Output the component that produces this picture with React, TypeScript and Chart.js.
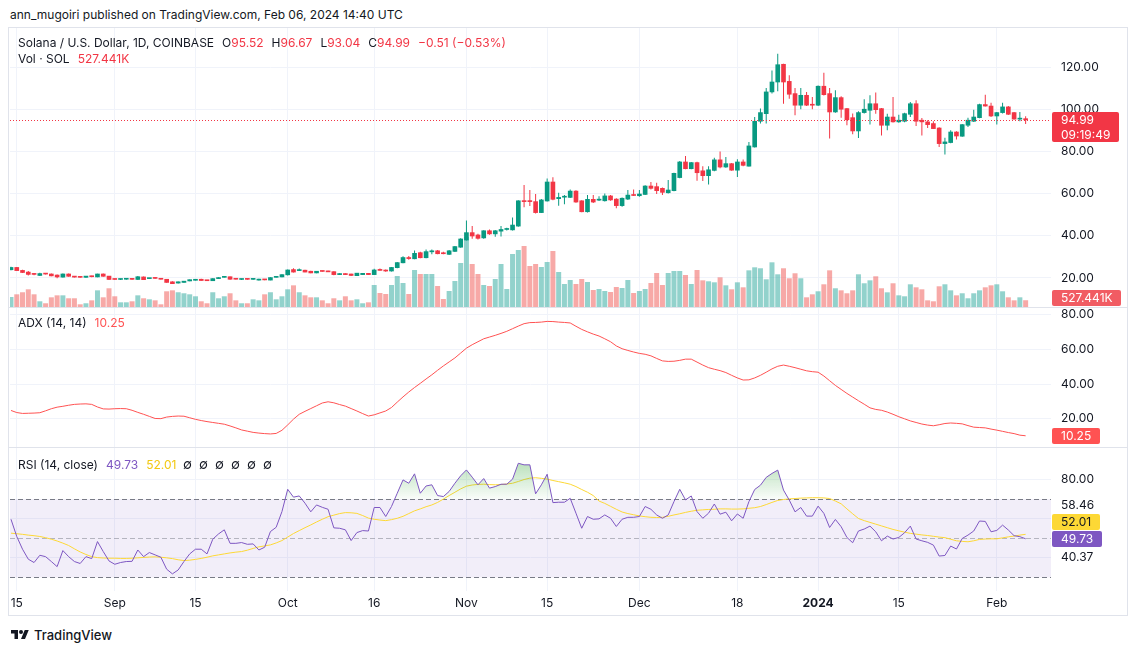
import React, { useEffect, useRef } from "react";
import { Chart, registerables } from "chart.js";

Chart.register(...registerables);

// ---------------- DATA (day index 0 = 2023-08-14, last = 2024-02-06) ----------------
const opens = [
  23.9, 25.0, 23.6, 22.8, 22.0, 21.2, 22.0, 21.9, 21.4, 20.4,
  21.9, 20.9, 20.45, 20.3, 20.9, 20.5, 21.9, 20.9, 19.6, 19.3,
  19.4, 19.6, 19.3, 20.5, 19.7, 20.2, 19.5, 19.4, 18.2, 17.6,
  17.9, 18.6, 18.9, 19.4, 18.9, 18.7, 19.7, 20.3, 20.6, 19.6,
  19.3, 19.4, 19.35, 19.0, 19.2, 19.0, 20.3, 20.5, 21.5, 24.0,
  23.5, 23.7, 23.2, 22.4, 23.2, 23.2, 23.0, 21.6, 22.1, 21.9,
  21.1, 21.6, 22.2, 21.6, 23.9, 23.7, 23.3, 24.9, 27.2, 29.7,
  29.1, 32.0, 29.6, 32.4, 32.9, 31.9, 31.2, 32.6, 34.6, 38.0,
  41.5, 40.4, 39.0, 42.4, 40.9, 42.2, 43.0, 42.8, 44.6, 56.5,
  56.4, 56.2, 51.0, 56.5, 65.5, 57.6, 58.3, 58.2, 61.2, 56.6,
  51.4, 57.3, 56.9, 56.6, 58.9, 57.4, 54.3, 57.4, 59.3, 59.0,
  59.6, 63.6, 63.3, 62.5, 60.4, 61.4, 67.6, 75.0, 71.8, 74.7,
  70.8, 68.5, 71.0, 76.0, 72.6, 74.2, 71.1, 75.0, 73.0, 82.1,
  94.3, 97.9, 108.2, 112.9, 121.3, 113.2, 107.4, 101.9, 106.6, 102.3,
  101.9, 110.9, 107.4, 98.7, 105.5, 100.3, 96.0, 89.7, 98.4, 99.5,
  102.6, 100.3, 92.4, 96.3, 94.0, 94.3, 97.6, 102.6, 94.8, 94.0,
  93.2, 91.1, 83.7, 84.2, 89.2, 87.2, 92.4, 94.3, 96.0, 102.2,
  101.5, 96.8, 98.4, 101.1, 98.4, 95.3, 95.52,
];
const highs = [
  25.3, 25.2, 23.9, 23.3, 22.4, 22.5, 22.2, 22.1, 21.6, 22.1,
  22.1, 21.0, 20.7, 21.0, 21.1, 22.0, 22.1, 21.0, 19.8, 19.6,
  19.6, 19.8, 20.9, 20.7, 19.9, 20.4, 19.7, 19.5, 18.4, 18.3,
  18.6, 19.3, 19.5, 19.6, 19.1, 19.9, 20.3, 20.8, 20.7, 19.9,
  19.6, 19.6, 19.6, 19.6, 19.4, 20.3, 20.8, 21.8, 24.0, 24.6,
  24.5, 23.9, 23.4, 23.3, 23.4, 23.4, 23.2, 22.3, 22.2, 22.0,
  22.4, 22.4, 22.3, 24.4, 24.5, 24.0, 25.2, 27.6, 30.3, 30.4,
  33.0, 32.4, 33.5, 33.5, 33.3, 32.4, 33.3, 35.2, 38.8, 47.2,
  44.6, 41.0, 42.6, 43.0, 42.8, 44.6, 43.8, 48.7, 56.9, 64.1,
  61.7, 59.8, 57.4, 67.2, 67.7, 60.4, 59.3, 62.0, 61.6, 56.9,
  59.3, 59.3, 58.8, 60.1, 59.3, 57.8, 58.2, 61.7, 62.0, 61.7,
  64.0, 65.5, 65.2, 62.9, 66.4, 69.9, 75.4, 77.8, 75.0, 75.1,
  73.0, 73.0, 77.0, 80.0, 77.4, 74.5, 76.3, 76.2, 84.5, 96.3,
  100.3, 110.1, 118.4, 126.3, 121.6, 116.1, 110.1, 110.1, 108.2, 105.8,
  111.3, 117.3, 110.1, 109.0, 106.1, 100.6, 98.0, 99.0, 104.7, 106.6,
  107.9, 100.6, 97.9, 105.8, 97.4, 98.3, 103.4, 104.2, 95.8, 94.8,
  94.3, 91.5, 86.5, 90.0, 89.5, 93.0, 96.0, 99.8, 102.6, 106.9,
  103.1, 98.7, 103.1, 101.5, 98.7, 98.7, 96.67,
];
const lows = [
  23.7, 23.4, 22.4, 21.2, 21.3, 21.0, 21.7, 20.8, 19.9, 20.2,
  20.6, 20.2, 20.1, 20.1, 20.3, 20.4, 20.6, 19.1, 19.2, 19.1,
  19.2, 19.2, 19.1, 19.1, 19.5, 19.6, 19.3, 17.8, 17.2, 17.4,
  17.8, 18.5, 18.8, 18.7, 18.6, 18.6, 19.6, 20.2, 19.2, 19.3,
  19.1, 19.2, 19.2, 18.8, 18.9, 18.9, 20.2, 20.3, 21.2, 22.6,
  23.3, 22.7, 22.3, 22.2, 23.0, 22.8, 21.3, 21.4, 21.4, 21.0,
  20.9, 21.4, 21.5, 21.4, 23.5, 23.0, 23.1, 24.6, 27.0, 28.7,
  28.9, 29.4, 29.3, 31.3, 31.2, 31.2, 30.9, 32.3, 34.3, 37.8,
  38.6, 38.2, 38.6, 40.5, 39.5, 39.7, 42.5, 42.5, 44.3, 53.5,
  54.1, 50.6, 50.8, 56.2, 56.8, 54.3, 54.9, 57.9, 55.7, 51.2,
  51.1, 55.6, 56.5, 56.3, 56.6, 53.0, 53.8, 57.0, 58.9, 58.5,
  59.3, 62.0, 59.8, 59.3, 60.1, 61.1, 67.3, 71.5, 71.5, 66.1,
  66.0, 64.3, 70.6, 72.0, 72.2, 70.8, 67.9, 73.0, 72.8, 81.8,
  93.2, 93.2, 107.5, 108.5, 102.6, 105.0, 97.1, 100.0, 101.5, 100.0,
  101.5, 106.5, 86.1, 98.3, 96.0, 92.4, 88.1, 86.4, 98.0, 92.7,
  97.9, 87.6, 90.0, 93.7, 93.6, 93.8, 96.3, 92.1, 87.6, 91.1,
  90.6, 82.1, 78.5, 83.9, 85.7, 86.9, 91.6, 94.0, 95.7, 101.3,
  96.3, 92.7, 98.0, 97.3, 95.1, 94.3, 93.04,
];
const closes = [
  25.0, 23.5, 22.6, 21.7, 21.7, 22.1, 21.85, 21.0, 20.5, 21.9,
  20.8, 20.4, 20.3, 20.9, 20.6, 21.9, 20.8, 19.3, 19.3, 19.4,
  19.45, 19.35, 20.6, 19.2, 19.8, 19.8, 19.4, 17.9, 17.3, 18.2,
  18.5, 19.2, 19.4, 18.8, 18.7, 19.7, 20.2, 20.5, 19.4, 19.4,
  19.4, 19.35, 19.45, 19.2, 19.1, 20.2, 20.6, 21.6, 23.8, 22.8,
  23.7, 22.8, 22.4, 23.2, 23.1, 22.9, 21.6, 22.1, 21.6, 21.2,
  22.3, 22.2, 21.6, 23.8, 23.6, 23.3, 25.0, 27.3, 29.7, 29.2,
  31.7, 29.6, 32.5, 32.9, 31.5, 31.5, 32.9, 34.9, 38.5, 41.5,
  39.9, 38.8, 42.4, 40.9, 42.4, 43.0, 43.2, 45.1, 56.6, 56.2,
  56.2, 51.0, 57.0, 65.5, 57.3, 58.2, 58.7, 61.2, 56.0, 51.4,
  57.3, 56.0, 57.3, 58.9, 57.0, 54.3, 57.8, 59.3, 59.1, 59.8,
  63.6, 62.5, 61.4, 60.6, 61.7, 69.6, 75.0, 71.8, 74.7, 69.9,
  68.5, 71.3, 76.0, 72.6, 74.2, 71.1, 75.0, 73.4, 82.6, 94.3,
  98.4, 108.2, 112.9, 121.1, 112.9, 107.1, 101.9, 106.6, 101.9, 101.9,
  110.9, 106.9, 98.7, 105.5, 100.0, 95.0, 89.7, 98.4, 100.0, 102.6,
  99.8, 92.4, 96.3, 94.0, 94.8, 97.9, 102.6, 94.3, 94.0, 92.7,
  90.8, 83.7, 84.5, 89.2, 87.3, 92.7, 94.8, 96.3, 102.2, 101.5,
  96.8, 98.4, 101.1, 97.6, 95.3, 95.5, 94.99,
];
// volume in thousands of SOL
const volumes = [
  780, 990, 1150, 1380, 990, 445, 290, 755, 910, 910,
  680, 680, 210, 290, 520, 1300, 755, 1460, 835, 365,
  365, 445, 910, 680, 600, 520, 210, 1225, 1300, 1150,
  1070, 990, 835, 445, 290, 1150, 680, 835, 1070, 520,
  290, 290, 600, 520, 990, 1150, 600, 835, 1380, 1690,
  1150, 910, 755, 755, 520, 290, 680, 520, 835, 520,
  600, 290, 365, 1715, 1090, 1015, 1715, 2420, 1870, 1015,
  2885, 2575, 2575, 2575, 1640, 625, 1250, 2030, 3430, 5460,
  3355, 2575, 1715, 1640, 2185, 3355, 1405, 4135, 4445, 4760,
  3200, 3355, 3120, 3510, 4370, 2730, 1795, 2105, 1795, 2185,
  1950, 1325, 1405, 1250, 1170, 1560, 1480, 2105, 1090, 1250,
  1405, 1870, 2650, 1715, 2650, 2810, 2810, 2495, 1795, 2885,
  2080, 2005, 1925, 2315, 1690, 1380, 1925, 1535, 2860, 3095,
  3020, 2160, 3485, 2550, 3020, 2240, 2630, 2240, 755, 990,
  1225, 1770, 2860, 1460, 1300, 1070, 1300, 2550, 1850, 2080,
  2395, 1460, 1145, 1850, 910, 835, 1770, 1535, 1380, 520,
  445, 1615, 1770, 1300, 910, 1070, 680, 1070, 1300, 1535,
  1690, 1770, 1225, 755, 520, 755, 527.441,
];
const adx = [
  24.8, 23.6, 23.1, 23.2, 23.3, 23.5, 24.6, 25.8, 26.7, 27.2,
  27.8, 28.3, 28.5, 28.6, 28.3, 26.8, 25.7, 25.6, 25.8, 25.9,
  25.8, 24.9, 23.7, 22.6, 21.4, 20.2, 20.1, 21.0, 21.4, 21.6,
  21.5, 20.6, 19.7, 19.0, 18.4, 17.9, 17.4, 16.9, 15.9, 14.8,
  13.6, 12.9, 12.2, 11.8, 11.5, 11.3, 11.6, 13.4, 16.5, 19.8,
  22.6, 24.3, 25.9, 27.5, 29.1, 29.8, 29.2, 28.2, 27.3, 25.9,
  24.5, 23.0, 21.6, 22.3, 23.4, 24.5, 26.5, 29.6, 32.6, 35.4,
  38.0, 40.4, 42.9, 45.3, 47.9, 50.4, 52.7, 55.0, 57.8, 60.6,
  62.6, 64.3, 66.0, 67.0, 68.0, 69.1, 70.3, 71.8, 73.3, 74.7,
  75.3, 75.4, 75.6, 76.0, 75.9, 75.6, 75.4, 75.1, 73.2, 71.4,
  70.0, 68.7, 67.6, 66.0, 64.3, 61.9, 60.3, 59.3, 58.4, 57.6,
  57.1, 56.2, 54.7, 53.3, 53.0, 53.1, 53.6, 54.3, 54.3, 52.6,
  50.9, 49.4, 48.5, 47.7, 46.6, 45.0, 43.5, 42.3, 42.4, 43.5,
  45.0, 46.8, 48.7, 50.2, 50.9, 50.2, 49.4, 48.5, 47.6, 47.1,
  46.8, 44.6, 41.9, 39.2, 36.9, 34.6, 32.5, 30.4, 28.4, 26.3,
  25.4, 24.9, 23.9, 22.6, 21.2, 20.0, 18.8, 17.9, 17.0, 16.4,
  16.0, 16.6, 17.3, 17.6, 17.4, 17.1, 16.1, 15.2, 15.0, 14.8,
  14.1, 13.5, 12.8, 12.1, 11.5, 10.6, 10.25,
];
const rsi = [
  59.7, 50.9, 44.4, 39.3, 37.6, 41.3, 40.6, 38.1, 35.5, 43.7,
  40.6, 38.1, 37.1, 40.6, 39.6, 48.3, 43.2, 38.4, 36.7, 37.6,
  38.1, 38.2, 44.0, 40.6, 42.7, 41.5, 40.3, 34.2, 31.8, 33.8,
  38.1, 42.0, 44.4, 44.4, 42.0, 49.5, 52.2, 54.3, 47.4, 47.4,
  47.8, 46.9, 47.1, 44.0, 45.4, 53.4, 55.6, 63.6, 75.0, 71.0,
  71.6, 67.9, 63.5, 67.0, 65.8, 64.8, 55.3, 55.1, 54.3, 48.8,
  52.9, 53.9, 53.7, 65.7, 65.7, 61.1, 66.2, 73.0, 79.8, 78.1,
  82.9, 73.0, 76.7, 77.3, 71.8, 71.3, 73.9, 78.1, 81.9, 84.9,
  81.2, 77.3, 80.5, 75.6, 76.4, 77.6, 77.6, 80.2, 88.3, 87.5,
  87.5, 72.7, 77.3, 82.7, 68.2, 68.4, 68.4, 70.4, 62.8, 55.1,
  61.1, 59.7, 59.9, 61.9, 60.2, 56.0, 59.7, 60.7, 60.7, 61.1,
  66.2, 64.8, 61.9, 60.2, 61.9, 68.7, 75.0, 69.6, 71.6, 63.6,
  60.2, 62.8, 67.5, 62.3, 63.3, 58.9, 62.4, 60.2, 68.7, 74.9,
  77.1, 81.1, 83.1, 84.8, 74.6, 69.5, 63.5, 65.7, 61.3, 61.3,
  66.4, 62.7, 55.5, 59.6, 55.9, 50.4, 47.7, 53.7, 54.7, 56.2,
  53.3, 48.7, 51.1, 49.6, 50.4, 52.8, 56.2, 49.6, 48.7, 47.9,
  46.5, 40.9, 41.2, 46.0, 44.5, 49.9, 51.6, 53.7, 58.8, 58.6,
  53.3, 54.0, 56.7, 54.2, 51.3, 50.8, 49.73,
];
const rsiMa = [
  52.6, 52.3, 52.0, 51.6, 51.3, 50.9, 50.3, 49.5, 48.6, 47.5,
  46.3, 44.6, 43.0, 41.7, 40.6, 40.1, 39.9, 39.8, 39.8, 39.7,
  39.7, 39.8, 40.0, 40.2, 40.4, 40.5, 40.3, 40.0, 39.6, 39.0,
  38.6, 38.8, 39.2, 39.7, 40.3, 41.0, 41.5, 42.0, 42.5, 42.9,
  43.2, 43.9, 44.8, 45.6, 46.1, 46.6, 47.6, 48.8, 50.6, 52.4,
  53.9, 55.4, 56.8, 58.3, 59.7, 61.0, 61.8, 62.6, 63.1, 63.0,
  62.7, 61.6, 60.3, 59.7, 59.3, 59.0, 59.5, 60.2, 61.2, 62.6,
  64.0, 65.0, 66.1, 67.0, 68.3, 70.0, 71.8, 73.5, 75.2, 76.6,
  77.2, 77.5, 77.6, 77.4, 77.3, 77.4, 77.7, 78.1, 79.0, 80.0,
  80.7, 80.9, 80.6, 80.2, 79.5, 78.9, 78.3, 77.6, 76.4, 74.9,
  73.5, 71.8, 69.0, 67.8, 66.3, 64.8, 63.4, 62.6, 62.0, 61.4,
  61.0, 60.7, 60.6, 60.7, 61.2, 61.9, 62.5, 63.2, 63.8, 64.3,
  64.5, 64.7, 64.8, 65.0, 65.0, 64.9, 64.9, 65.0, 65.3, 65.6,
  66.2, 67.2, 68.3, 69.3, 69.8, 70.1, 70.3, 70.5, 70.6, 70.7,
  70.7, 70.6, 70.3, 69.0, 67.6, 65.0, 62.5, 60.1, 59.0, 58.1,
  57.2, 56.3, 55.4, 54.5, 53.8, 53.1, 52.5, 52.1, 51.7, 51.4,
  51.0, 50.6, 50.3, 49.5, 48.7, 48.4, 48.2, 48.7, 49.4, 49.6,
  49.7, 49.7, 50.2, 50.7, 51.1, 51.6, 52.01,
];
const timeTickDays = [1, 18, 32, 48, 63, 79, 93, 109, 126, 140, 154, 171];
const timeTickLabels = ["15", "Sep", "15", "Oct", "16", "Nov", "15", "Dec", "18", "2024", "15", "Feb"];
const priceTicks = [20, 40, 60, 80, 100, 120];
const adxTicks = [20, 40, 60, 80];
const rsiGridTicks = [40, 60, 80];
const rsiScaleLabels = [80, 58.46, 40.37];
const rsiLevels = [70, 50, 30];
const countdownText = "09:19:49";

// ---------------- STYLE ----------------
const FONT = "Inter, Roboto, 'Noto Sans', sans-serif";
const TEXT = "#131722";
const UP = "#089981";
const DOWN = "#f23645";
const UP_VOL = "rgba(38,166,154,0.5)";
const DOWN_VOL = "rgba(239,83,80,0.5)";
const GRID = "#f0f3fa";
const SEP = "#e0e3eb";
const ADX_COLOR = "#ff5252";
const RSI_COLOR = "#7e57c2";
const MA_COLOR = "#fdd835";
const VOL_BOX = "#f15c63";

const CANVAS_W = 1117;
const AXIS_W = 76;
const X_MIN = -0.173;
const X_MAX = 180.4;

const last = closes.length - 1;
const idx = closes.map((_, i) => i);
const fmt2 = (v: number) => v.toFixed(2);
const minus = (s: string) => s.replace("-", "\u2212");

function xScale(showLabels: boolean) {
  return {
    type: "linear" as const,
    min: X_MIN,
    max: X_MAX,
    offset: false,
    grid: { color: GRID, drawTicks: false, offset: false, lineWidth: 1 },
    border: { display: false },
    afterBuildTicks: (s: any) => {
      s.ticks = timeTickDays.map((v) => ({ value: v }));
    },
    ticks: showLabels
      ? {
          display: true,
          autoSkip: false,
          maxRotation: 0,
          padding: 5,
          color: TEXT,
          font: (c: any) => ({
            family: FONT,
            size: 12,
            weight: c.tick && timeTickLabels[timeTickDays.indexOf(c.tick.value)] === "2024" ? "bold" : "normal",
          }),
          callback: (v: any) => timeTickLabels[timeTickDays.indexOf(Number(v))] ?? "",
        }
      : { display: false },
    afterFit: (s: any) => {
      s.height = showLabels ? 24 : 0;
      s.paddingLeft = 0;
      s.paddingRight = 0;
    },
  };
}

function yScale(min: number, max: number, ticks: number[], showLabels: boolean) {
  return {
    type: "linear" as const,
    position: "right" as const,
    min,
    max,
    grid: { color: GRID, drawTicks: false, lineWidth: 1 },
    border: { display: false },
    afterBuildTicks: (s: any) => {
      s.ticks = ticks.map((v) => ({ value: v }));
    },
    ticks: {
      display: showLabels,
      padding: 10,
      color: TEXT,
      font: { family: FONT, size: 12 },
      callback: (v: any) => fmt2(Number(v)),
    },
    afterFit: (s: any) => {
      s.width = AXIS_W;
      s.paddingTop = 0;
      s.paddingBottom = 0;
    },
  };
}

function drawBox(ctx: CanvasRenderingContext2D, x: number, top: number, lines: string[], bg: string, fg: string) {
  ctx.save();
  ctx.font = `12px ${FONT}`;
  const w = Math.ceil(Math.max(...lines.map((t) => ctx.measureText(t).width)) + 17);
  const h = lines.length === 1 ? 16 : 30;
  ctx.fillStyle = bg;
  ctx.beginPath();
  (ctx as any).roundRect ? (ctx as any).roundRect(x, top, w, h, 2) : ctx.rect(x, top, w, h);
  ctx.fill();
  ctx.fillStyle = fg;
  ctx.textBaseline = "middle";
  ctx.textAlign = "left";
  lines.forEach((t, k) => ctx.fillText(t, x + 9, top + 8.5 + k * 14.5));
  ctx.restore();
}

const baseOptions = {
  animation: false as const,
  responsive: false,
  maintainAspectRatio: false,
  devicePixelRatio: 1,
  events: [] as any[],
  layout: { padding: 0 },
  plugins: { legend: { display: false }, tooltip: { enabled: false } },
};

export default function App() {
  const priceRef = useRef<HTMLCanvasElement>(null);
  const adxRef = useRef<HTMLCanvasElement>(null);
  const rsiRef = useRef<HTMLCanvasElement>(null);

  useEffect(() => {
    const charts: Chart[] = [];
    const candleColors = idx.map((i) => (closes[i] >= opens[i] ? UP : DOWN));
    const volColors = idx.map((i) => (closes[i] >= opens[i] ? UP_VOL : DOWN_VOL));

    // ---------- price + volume ----------
    const pricePlugin = {
      id: "priceOverlay",
      afterDatasetsDraw(chart: any) {
        const { ctx, chartArea, scales } = chart;
        const y = Math.round(scales.y.getPixelForValue(closes[last])) + 0.5;
        ctx.save();
        ctx.strokeStyle = candleColors[last];
        ctx.lineWidth = 1;
        ctx.setLineDash([1, 2]);
        ctx.beginPath();
        ctx.moveTo(chartArea.left, y);
        ctx.lineTo(chartArea.right, y);
        ctx.stroke();
        ctx.restore();
      },
      afterDraw(chart: any) {
        const { ctx, chartArea, scales } = chart;
        const py = scales.y.getPixelForValue(closes[last]);
        drawBox(ctx, chartArea.right + 1, Math.round(py) - 8, [fmt2(closes[last]), countdownText], candleColors[last], "#ffffff");
        const vy = Math.min(scales.yv.getPixelForValue(volumes[last]), chartArea.bottom - 9);
        drawBox(ctx, chartArea.right + 1, Math.round(vy) - 8, [volumes[last].toFixed(3) + "K"], VOL_BOX, "#ffffff");
      },
    };
    if (priceRef.current) {
      charts.push(
        new Chart(priceRef.current, {
          type: "bar",
          data: {
            datasets: [
              {
                data: idx.map((i) => ({ x: i, y: [opens[i], closes[i]] })) as any,
                backgroundColor: candleColors,
                barThickness: 4,
                minBarLength: 1,
                grouped: false,
                order: 1,
                yAxisID: "y",
              } as any,
              {
                data: idx.map((i) => ({ x: i, y: [lows[i], highs[i]] })) as any,
                backgroundColor: candleColors,
                barThickness: 1,
                inflateAmount: 0,
                grouped: false,
                order: 2,
                yAxisID: "y",
              } as any,
              {
                data: idx.map((i) => ({ x: i, y: volumes[i] })) as any,
                backgroundColor: volColors,
                barThickness: 5,
                inflateAmount: 0,
                grouped: false,
                order: 3,
                yAxisID: "yv",
              } as any,
            ],
          },
          options: {
            ...baseOptions,
            scales: {
              x: xScale(false) as any,
              y: yScale(6.25, 138.5, priceTicks, true) as any,
              yv: { type: "linear", display: false, min: 0, max: 21760 } as any,
            },
          } as any,
          plugins: [pricePlugin],
        })
      );
    }

    // ---------- ADX ----------
    const adxPlugin = {
      id: "adxOverlay",
      afterDraw(chart: any) {
        const { ctx, chartArea, scales } = chart;
        const y = scales.y.getPixelForValue(adx[last]);
        drawBox(ctx, chartArea.right + 1, Math.round(y) - 8, [fmt2(adx[last])], ADX_COLOR, "#ffffff");
      },
    };
    if (adxRef.current) {
      charts.push(
        new Chart(adxRef.current, {
          type: "line",
          data: {
            datasets: [
              {
                data: idx.map((i) => ({ x: i, y: adx[i] })) as any,
                borderColor: ADX_COLOR,
                borderWidth: 1,
                pointRadius: 0,
                tension: 0,
                fill: false,
              },
            ],
          },
          options: {
            ...baseOptions,
            scales: { x: xScale(false) as any, y: yScale(3.8, 83.7, adxTicks, true) as any },
          } as any,
          plugins: [adxPlugin],
        })
      );
    }

    // ---------- RSI ----------
    const rsiPlugin = {
      id: "rsiOverlay",
      beforeDatasetsDraw(chart: any) {
        const { ctx, chartArea, scales } = chart;
        const y = scales.y;
        const top = y.getPixelForValue(rsiLevels[0]);
        const bot = y.getPixelForValue(rsiLevels[2]);
        ctx.save();
        ctx.fillStyle = "rgba(126,87,194,0.1)";
        ctx.fillRect(chartArea.left, top, chartArea.right - chartArea.left, bot - top);
        ctx.lineWidth = 1;
        ctx.setLineDash([5, 3]);
        rsiLevels.forEach((lv, k) => {
          const py = Math.round(y.getPixelForValue(lv)) + 0.5;
          ctx.strokeStyle = k === 1 ? "rgba(120,123,134,0.5)" : "#787b86";
          ctx.beginPath();
          ctx.moveTo(chartArea.left, py);
          ctx.lineTo(chartArea.right, py);
          ctx.stroke();
        });
        ctx.restore();
      },
      afterDraw(chart: any) {
        const { ctx, chartArea, scales } = chart;
        const y = scales.y;
        type Item = { c: number; h: number; kind: string; text: string };
        const items: Item[] = [
          ...rsiScaleLabels.map((v) => ({ c: y.getPixelForValue(v), h: 14, kind: "label", text: fmt2(v) })),
          { c: y.getPixelForValue(rsi[last]), h: 16, kind: "rsi", text: fmt2(rsi[last]) },
          { c: y.getPixelForValue(rsiMa[last]), h: 16, kind: "ma", text: fmt2(rsiMa[last]) },
        ];
        items.sort((a, b) => b.c - a.c);
        for (let k = 1; k < items.length; k++) {
          const prevTop = items[k - 1].c - items[k - 1].h / 2;
          if (items[k].c + items[k].h / 2 > prevTop - 1) items[k].c = prevTop - 1 - items[k].h / 2;
        }
        ctx.save();
        items.forEach((it) => {
          if (it.kind === "label") {
            ctx.font = `12px ${FONT}`;
            ctx.fillStyle = TEXT;
            ctx.textBaseline = "middle";
            ctx.textAlign = "left";
            ctx.fillText(it.text, chartArea.right + 10, it.c);
          } else if (it.kind === "rsi") {
            drawBox(ctx, chartArea.right + 1, Math.round(it.c) - 8, [it.text], RSI_COLOR, "#ffffff");
          } else {
            drawBox(ctx, chartArea.right + 1, Math.round(it.c) - 8, [it.text], MA_COLOR, TEXT);
          }
        });
        ctx.restore();
      },
    };
    if (rsiRef.current) {
      charts.push(
        new Chart(rsiRef.current, {
          type: "line",
          data: {
            datasets: [
              {
                data: idx.map((i) => ({ x: i, y: rsi[i] })) as any,
                borderColor: RSI_COLOR,
                borderWidth: 1,
                pointRadius: 0,
                tension: 0,
                order: 1,
                backgroundColor: (c: any) => {
                  const ch = c.chart;
                  if (!ch.chartArea || !ch.scales || !ch.scales.y) return "rgba(76,175,80,0.25)";
                  const g = ch.ctx.createLinearGradient(0, ch.scales.y.getPixelForValue(100), 0, ch.scales.y.getPixelForValue(70));
                  g.addColorStop(0, "rgba(76,175,80,0.6)");
                  g.addColorStop(1, "rgba(76,175,80,0.03)");
                  return g;
                },
                fill: { target: { value: 70 }, below: "rgba(0,0,0,0)" },
              } as any,
              {
                data: idx.map((i) => ({ x: i, y: rsiMa[i] })) as any,
                borderColor: MA_COLOR,
                borderWidth: 1,
                pointRadius: 0,
                tension: 0,
                fill: false,
                order: 2,
              },
            ],
          },
          options: {
            ...baseOptions,
            scales: { x: xScale(true) as any, y: yScale(23.05, 96.1, rsiGridTicks, false) as any },
          } as any,
          plugins: [rsiPlugin],
        })
      );
    }
    return () => charts.forEach((c) => c.destroy());
  }, []);

  const chg = closes[last] - closes[last - 1];
  const pct = (chg / closes[last - 1]) * 100;
  const valColor = closes[last] >= opens[last] ? UP : DOWN;
  const abs: React.CSSProperties = { position: "absolute", whiteSpace: "nowrap" };
  const legend: React.CSSProperties = { ...abs, left: 18, fontSize: 12, lineHeight: "16px", color: TEXT };
  const gap = { marginLeft: 8 };

  return (
    <div style={{ position: "absolute", left: 0, top: 0, width: 1136, height: 652, background: "#ffffff", fontFamily: FONT, color: TEXT, overflow: "hidden" }}>
      <div style={{ ...abs, left: 10, top: 7, fontSize: 12, lineHeight: "16px" }}>
        ann_mugoiri published on TradingView.com, Feb 06, 2024 14:40 UTC
      </div>
      <div style={{ ...abs, left: 8, top: 27, width: 1120, height: 589, boxSizing: "border-box", border: `1px solid ${SEP}` }} />
      <canvas ref={priceRef} width={CANVAS_W} height={279} style={{ ...abs, left: 10, top: 28, width: CANVAS_W, height: 279, display: "block" }} />
      <div style={{ ...abs, left: 9, top: 307, width: 1118, height: 1, background: SEP }} />
      <canvas ref={adxRef} width={CANVAS_W} height={139} style={{ ...abs, left: 10, top: 308, width: CANVAS_W, height: 139, display: "block" }} />
      <div style={{ ...abs, left: 9, top: 447, width: 1118, height: 1, background: SEP }} />
      <canvas ref={rsiRef} width={CANVAS_W} height={167} style={{ ...abs, left: 10, top: 448, width: CANVAS_W, height: 167, display: "block" }} />

      <div style={{ ...legend, top: 35 }}>
        Solana / U.S. Dollar, 1D, COINBASE
        <span style={gap}>O</span><span style={{ color: valColor }}>{fmt2(opens[last])}</span>
        <span style={gap}>H</span><span style={{ color: valColor }}>{fmt2(highs[last])}</span>
        <span style={gap}>L</span><span style={{ color: valColor }}>{fmt2(lows[last])}</span>
        <span style={gap}>C</span><span style={{ color: valColor }}>{fmt2(closes[last])}</span>
        <span style={{ ...gap, color: valColor }}>{minus(chg.toFixed(2))} ({minus(pct.toFixed(2))}%)</span>
      </div>
      <div style={{ ...legend, top: 51 }}>
        Vol · SOL<span style={{ ...gap, color: valColor }}>{volumes[last].toFixed(3)}K</span>
      </div>
      <div style={{ ...legend, top: 315 }}>
        ADX (14, 14)<span style={{ ...gap, color: ADX_COLOR }}>{fmt2(adx[last])}</span>
      </div>
      <div style={{ ...legend, top: 456 }}>
        RSI (14, close)<span style={{ ...gap, color: RSI_COLOR }}>{fmt2(rsi[last])}</span>
        <span style={{ ...gap, color: "#f2c811" }}>{fmt2(rsiMa[last])}</span>
        <span style={{ marginLeft: 3 }}>
          {[0, 1, 2, 3, 4, 5].map((k) => (
            <span key={k} style={{ display: "inline-block", width: 16, textAlign: "center", fontSize: 13 }}>∅</span>
          ))}
        </span>
      </div>

      <div style={{ ...abs, left: 10, top: 627, display: "flex", alignItems: "center" }}>
        <svg width="20" height="14" viewBox="0 0 36 28">
          <path d="M14 22H7V11H0V4h14v18zM28 22h-8l7.5-18h8L28 22z" fill={TEXT} />
          <circle cx="20" cy="8" r="4" fill={TEXT} />
        </svg>
        <span style={{ marginLeft: 4, fontSize: 13, fontWeight: 500, lineHeight: "16px" }}>TradingView</span>
      </div>
    </div>
  );
}
